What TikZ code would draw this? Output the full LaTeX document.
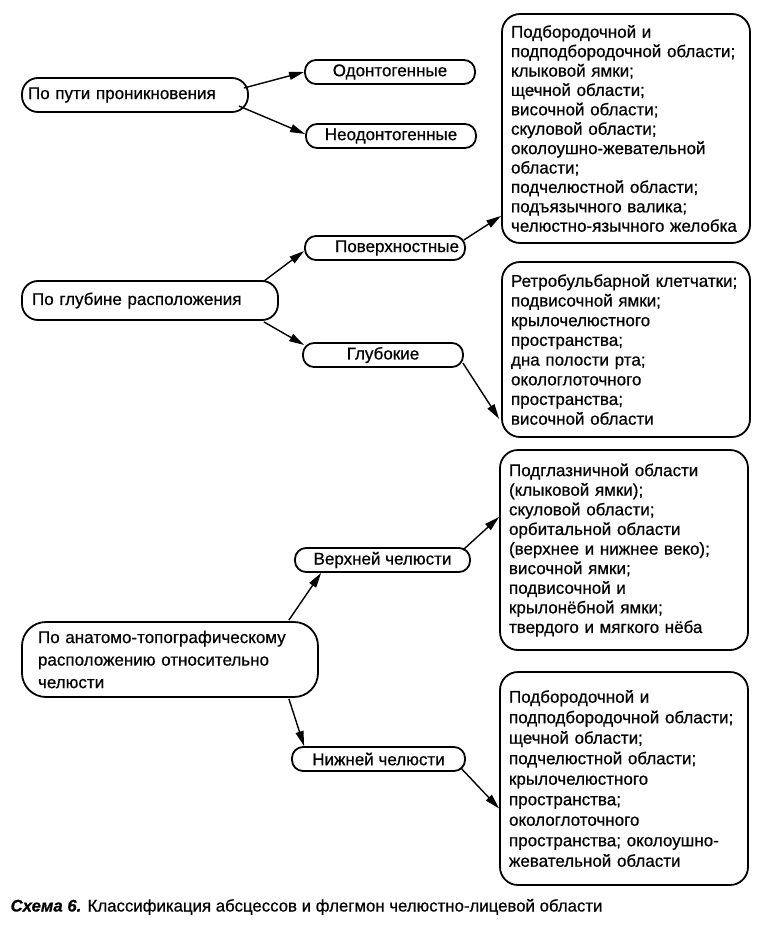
\documentclass[tikz,border=0pt]{standalone}
\usepackage{fontspec}
\setmainfont{Liberation Sans}[FakeBold=0.6]
\usetikzlibrary{arrows.meta}
\begin{document}
\begin{tikzpicture}[x=1pt,y=-1pt,
  every node/.style={font=\fontsize{17}{19.4}\selectfont},
  pill/.style={draw, line width=1.8pt, rounded corners=11pt, minimum height=24pt, inner sep=0pt},
  cat/.style={draw, line width=1.8pt, rounded corners=16pt, inner sep=0pt, align=left},
  listbox/.style={draw, line width=1.8pt, rounded corners=18pt, minimum width=248pt, text width=230pt, align=left, inner xsep=9pt, inner ysep=0pt},
  arr/.style={line width=1.4pt, -{Triangle[length=15pt,width=8pt]}}
]
\useasboundingbox (0,0) rectangle (759,944);

% categories
\node[cat, minimum width=226pt, minimum height=34pt, text width=214pt] (a1) at (135,95) {По пути проникновения};
\node[cat, minimum width=256pt, minimum height=39pt, text width=236pt] (a2) at (150,300.5) {По глубине расположения};
\node[cat, rounded corners=24pt, minimum width=296pt, minimum height=75pt, text width=264pt, font=\fontsize{17}{22.5}\selectfont] (a3) at (170,659.5) {По анатомо-топографическому\\расположению относительно\\челюсти};

% pills
\node[pill, minimum width=170pt] (od) at (390,72) {Одонтогенные};
\node[pill, minimum width=170pt] (neod) at (391,136) {Неодонтогенные};
\node[pill, minimum width=160pt, text width=148pt, align=right] (pov) at (385,248) {Поверхностные};
\node[pill, minimum width=160pt] (glub) at (383,355) {Глубокие};
\node[pill, minimum width=175pt] (verh) at (382.5,560) {Верхней челюсти};
\node[pill, minimum width=173pt] (nizh) at (378.5,759) {Нижней челюсти};

% list boxes
\node[listbox, minimum height=229pt] (box1) at (626,128.5) {Подбородочной и\\подподбородочной области;\\клыковой ямки;\\щечной области;\\височной области;\\скуловой области;\\околоушно-жевательной\\области;\\подчелюстной области;\\подъязычного валика;\\челюстно-язычного желобка};
\node[listbox, minimum height=175pt, font=\fontsize{17}{19.7}\selectfont] (box2) at (626,349.5) {Ретробульбарной клетчатки;\\подвисочной ямки;\\крылочелюстного\\пространства;\\дна полости рта;\\окологлоточного\\пространства;\\височной области};
\node[listbox, minimum height=200pt, font=\fontsize{17}{19.6}\selectfont] (box3) at (624,550) {Подглазничной области\\(клыковой ямки);\\скуловой области;\\орбитальной области\\(верхнее и нижнее веко);\\височной ямки;\\подвисочной и\\крылонёбной ямки;\\твердого и мягкого нёба};
\node[listbox, minimum height=213pt, font=\fontsize{17}{20.5}\selectfont] (box4) at (624,778.5) {Подбородочной и\\подподбородочной области;\\щечной области;\\подчелюстной области;\\крылочелюстного\\пространства;\\окологлоточного\\пространства; околоушно-\\жевательной области};

% arrows
\draw[arr] ([shift={(-5,-7)}]a1.east) -- (od.west);
\draw[arr] ([shift={(-10,11)}]a1.east) -- ([shift={(0,-2)}]neod.west);
\draw[arr] ([shift={(-15,1)}]a2.north east) -- ([shift={(0,3)}]pov.west);
\draw[arr] ([shift={(-15,1)}]a2.south east) -- ([shift={(2,-10)}]glub.west);
\draw[arr] ([shift={(-2,-8)}]pov.east) -- ([shift={(0,-28)}]box1.south west);
\draw[arr] ([shift={(-1,8)}]glub.east) -- ([shift={(-2,-19)}]box2.south west);
\draw[arr] ([shift={(-30,-1)}]a3.north east) -- ([shift={(27,0)}]verh.south west);
\draw[arr] ([shift={(-30,1)}]a3.south east) -- ([shift={(13,0)}]nizh.north west);
\draw[arr] ([shift={(-8,-10)}]verh.east) -- ([shift={(0,-33)}]box3.west);
\draw[arr] ([shift={(-5,9)}]nizh.east) -- ([shift={(0,30)}]box4.west);

% caption
\node[anchor=west, font=\fontsize{16.8}{19}\selectfont] (cap) at (7,907) {\textbf{\textit{Схема 6.}} Классификация абсцессов и флегмон челюстно-лицевой области};
\end{tikzpicture}
\end{document}
